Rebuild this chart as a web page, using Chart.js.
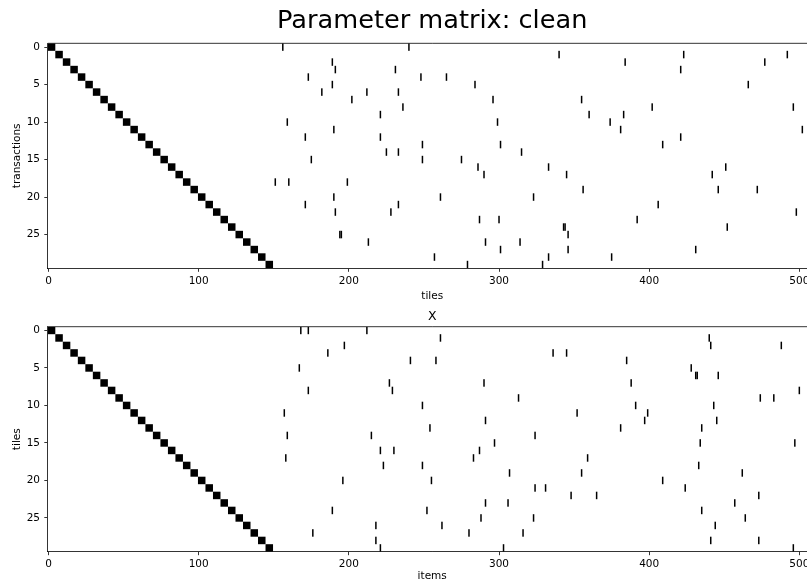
<!DOCTYPE html>
<html>
<head>
<meta charset="utf-8">
<script src="https://cdn.jsdelivr.net/npm/chart.js@4.4.0/dist/chart.umd.min.js"></script>
<style>
html, body { margin: 0; padding: 0; background: #fff; overflow: hidden; width: 807px; height: 583px; }
#top { position: absolute; left: 0; top: 0; width: 820px; height: 305px; }
#bot { position: absolute; left: 0; top: 300px; width: 820px; height: 283px; }
</style>
</head>
<body>
<div id="top"><canvas id="c1"></canvas></div>
<div id="bot"><canvas id="c2"></canvas></div>
<script>
// diagonal blocks (same in both matrices): row i covers columns start..start+4
const blockRows   = [0,1,2,3,4,5,6,7,8,9,10,11,12,13,14,15,16,17,18,19,20,21,22,23,24,25,26,27,28,29];
const blockStarts = [0,5,10,15,20,25,30,35,40,45,50,55,60,65,70,75,80,85,90,95,100,105,110,115,120,125,130,135,140,145];
const blockWidth = 5;

// scattered single cells, "Parameter matrix: clean"
const cleanRows = [0,0, 1,1,1, 2,2,2, 3,3,3, 4,4,4, 5,5,5, 6,6,6, 7,7,7, 8,8,8, 9,9,9, 10,10,10,
  11,11,11, 12,12,12, 13,13,13, 14,14,14, 15,15,15, 16,16,16, 17,17,17, 18,18,18, 19,19,19, 20,20,20,
  21,21,21, 22,22,22, 23,23,23, 24,24,24, 25,25,25, 26,26,26, 27,27,27, 28,28,28, 29,29];
const cleanCols = [156,240, 340,423,492, 189,384,477, 191,231,421, 173,248,265, 189,284,466, 182,212,233,
  202,296,355, 236,402,496, 221,360,383, 159,299,374, 190,381,502, 171,221,421, 249,301,409, 225,233,315,
  175,249,275, 286,333,451, 290,345,442, 151,160,199, 356,446,472, 190,261,323, 171,233,406, 191,228,498,
  287,300,392, 343,344,452, 194,195,346, 213,291,314, 301,346,431, 257,333,375, 279,329];

// scattered single cells, "X"
const xRows = [0,0,0, 1,1, 2,2,2, 3,3,3, 4,4,4, 5,5, 6,6,6, 7,7,7, 8,8,8, 9,9,9, 10,10,10,
  11,11,11, 12,12,12, 13,13,13, 14,14,14, 15,15,15, 16,16,16, 17,17,17, 18,18,18, 19,19,19, 20,20,20,
  21,21,21, 22,22,22, 23,23,23, 24,24,24, 25,25,25, 26,26,26, 27,27,27, 28,28,28, 29,29,29];
const xCols = [168,173,212, 261,440, 197,441,488, 186,336,345, 241,258,385, 167,428, 431,432,446,
  227,290,388, 173,229,500, 313,474,483, 249,391,443, 157,352,399, 291,397,445, 254,381,435,
  159,215,324, 297,434,497, 221,230,287, 158,283,359, 223,249,433, 307,355,462, 196,255,409,
  324,331,424, 348,365,473, 291,306,457, 189,252,435, 288,323,464, 218,262,444, 176,280,316,
  218,441,473, 221,303,496];

const xTicks = [0, 100, 200, 300, 400, 500];
const yTicks = [0, 5, 10, 15, 20, 25];
const nRows = 30, nCols = 512;

const FONT = 'DejaVu Sans';

const cellPlugin = {
  id: 'cells',
  afterDatasetsDraw(chart) {
    const {ctx, chartArea: a, scales: {x, y}} = chart;
    ctx.save();
    ctx.beginPath();
    ctx.rect(a.left, a.top, a.right - a.left, a.bottom - a.top);
    ctx.clip();
    chart.data.datasets.forEach(ds => {
      ctx.fillStyle = '#000';
      ds.data.forEach(p => {
        const x0 = x.getPixelForValue(p.x - 0.5);
        const x1 = x.getPixelForValue(p.x + p.w - 0.5);
        const y0 = y.getPixelForValue(p.y - 0.5);
        const y1 = y.getPixelForValue(p.y + 0.5);
        ctx.fillRect(x0, Math.min(y0, y1), x1 - x0, Math.abs(y1 - y0));
      });
    });
    ctx.restore();
    // top spine
    ctx.save();
    ctx.strokeStyle = '#000';
    ctx.lineWidth = 0.8;
    ctx.beginPath();
    ctx.moveTo(a.left, a.top);
    ctx.lineTo(a.right, a.top);
    ctx.stroke();
    ctx.restore();
  }
};

function makeChart(id, rows, cols, opts) {
  const blocks = blockRows.map((r, i) => ({x: blockStarts[i], y: r, w: blockWidth}));
  const cells = rows.map((r, i) => ({x: cols[i], y: r, w: 1}));
  return new Chart(document.getElementById(id), {
    type: 'scatter',
    data: {
      datasets: [
        {label: 'blocks', data: blocks, pointRadius: 0},
        {label: 'cells', data: cells, pointRadius: 0}
      ]
    },
    plugins: [cellPlugin],
    options: {
      responsive: true,
      maintainAspectRatio: false,
      animation: false,
      events: [],
      layout: {padding: {left: 0, right: 3.4, top: 0, bottom: 0}},
      plugins: {
        legend: {display: false},
        tooltip: {enabled: false},
        title: {
          display: true,
          text: opts.title,
          fullSize: false,
          color: '#000',
          font: {family: FONT, size: opts.titleSize, weight: 'normal'},
          padding: opts.titlePad
        }
      },
      scales: {
        x: {
          type: 'linear',
          min: -0.5,
          max: nCols - 0.5,
          afterBuildTicks: s => { s.ticks = xTicks.map(v => ({value: v})); },
          afterFit: s => { s.height = opts.xHeight; },
          ticks: {color: '#000', font: {family: FONT, size: 10.5}, padding: 3, maxRotation: 0, autoSkip: false},
          grid: {drawOnChartArea: false, drawTicks: true, tickLength: 3.5, color: '#000', tickWidth: 0.8},
          border: {display: true, color: '#000', width: 0.8},
          title: {display: true, text: opts.xLabel, color: '#000', font: {family: FONT, size: 10.5}, padding: {top: 0, bottom: opts.xTitlePad}}
        },
        y: {
          type: 'linear',
          reverse: true,
          min: -0.5,
          max: nRows - 0.5,
          afterBuildTicks: s => { s.ticks = yTicks.map(v => ({value: v})); },
          afterFit: s => { s.width = 47.8; },
          ticks: {color: '#000', font: {family: FONT, size: 10.5}, padding: 4.3},
          grid: {drawOnChartArea: false, drawTicks: true, tickLength: 3.5, color: '#000', tickWidth: 0.8},
          border: {display: true, color: '#000', width: 0.8},
          title: {display: true, text: opts.yLabel, color: '#000', font: {family: FONT, size: 10.5}, padding: {top: 10.7, bottom: 0}}
        }
      }
    }
  });
}

makeChart('c1', cleanRows, cleanCols, {
  title: 'Parameter matrix: clean', titleSize: 25.6, titlePad: {top: 6.2, bottom: 6.4},
  xLabel: 'tiles', yLabel: 'transactions', xHeight: 36.7, xTitlePad: 2.7
});
makeChart('c2', xRows, xCols, {
  title: 'X', titleSize: 12.5, titlePad: {top: 9, bottom: 2.7},
  xLabel: 'items', yLabel: 'tiles', xHeight: 31.3, xTitlePad: 0
});
</script>
</body>
</html>
